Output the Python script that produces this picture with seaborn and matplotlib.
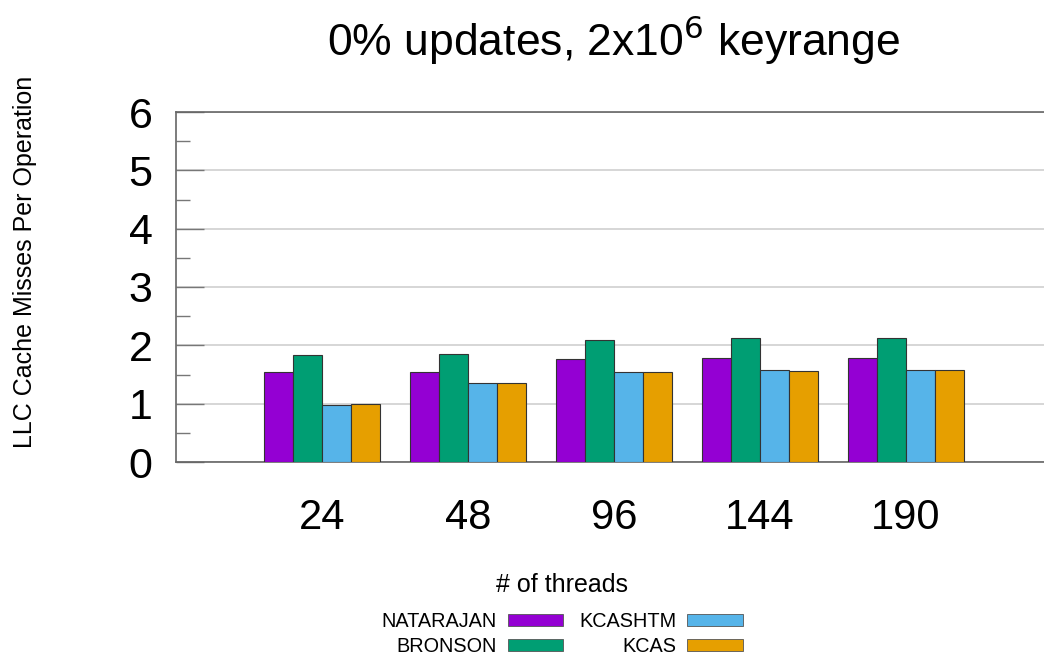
import pandas as pd
import matplotlib
matplotlib.use("Agg")
import matplotlib.pyplot as plt
import seaborn as sns
from matplotlib.ticker import MultipleLocator

threads = ["24", "48", "96", "144", "190"]
algos = ["NATARAJAN", "BRONSON", "KCASHTM", "KCAS"]
natarajan = [1.55, 1.55, 1.76, 1.78, 1.78]
bronson = [1.83, 1.86, 2.10, 2.12, 2.12]
kcashtm = [0.97, 1.35, 1.55, 1.57, 1.57]
kcas = [0.99, 1.35, 1.55, 1.555, 1.57]
colors = ["#9400D3", "#009E73", "#56B4E9", "#E69F00"]

rows = []
for name, vals in zip(algos, [natarajan, bronson, kcashtm, kcas]):
    for t, v in zip(threads, vals):
        rows.append({"threads": t, "algo": name, "misses": v})
df = pd.DataFrame(rows)

sns.set_style("white")
plt.rcParams['font.family'] = ['Liberation Sans', 'DejaVu Sans']
plt.rcParams['text.color'] = 'black'
plt.rcParams['xtick.color'] = 'black'
plt.rcParams['ytick.color'] = 'black'

fig = plt.figure(figsize=(10.44, 6.59), dpi=100)
ax = fig.add_axes([176 / 1044, 1 - 462 / 659, 1 - 176 / 1044, 350 / 659])

sns.barplot(data=df, x="threads", y="misses", hue="algo", order=threads,
            hue_order=algos, palette=colors, width=0.8, edgecolor="#333333",
            linewidth=0.8, saturation=1, ax=ax, zorder=3)

ax.set_xlim(-1, 4.945)
ax.set_ylim(0, 6)
ax.yaxis.set_major_locator(MultipleLocator(1))
ax.yaxis.set_minor_locator(MultipleLocator(0.5))
ax.grid(axis="y", which="major", color="#d0d0d0", linewidth=1.2, zorder=0)
ax.set_axisbelow(True)
ax.tick_params(axis="y", which="major", left=True, direction="in", length=20,
               width=1, color="#777777", labelcolor="black", labelsize=31, pad=17)
ax.tick_params(axis="y", which="minor", left=True, direction="in", length=10,
               width=1, color="#777777")
ax.tick_params(axis="x", length=0, labelsize=30, labelcolor="black", pad=26)
for side in ["left", "bottom", "top"]:
    ax.spines[side].set_color("#666666")
    ax.spines[side].set_linewidth(1.2)
ax.spines["right"].set_visible(False)

ax.set_xlabel("")
ax.set_ylabel("")
fig.text(562 / 1044, 1 - 585 / 659, "# of threads", fontsize=18,
         ha="center", va="center")
fig.text(25 / 1044, 1 - 262 / 659, "LLC Cache Misses Per Operation",
         rotation=90, fontsize=18, ha="center", va="center")
fig.text(614 / 1044, 1 - 40 / 659, r"0% updates, 2x10$^6$ keyrange",
         fontsize=32, ha="center", va="center")

ax.get_legend().remove()
handles = [plt.Rectangle((0, 0), 1, 1, facecolor=c, edgecolor="#555555",
                         linewidth=0.6) for c in colors]
fig.legend(handles, algos, loc="center", bbox_to_anchor=(562 / 1044, 1 - 634 / 659),
           ncol=2, frameon=False, markerfirst=False, fontsize=14.3,
           handlelength=2.8, handleheight=0.5, handletextpad=0.55,
           columnspacing=0.8, labelspacing=0.3)

fig.savefig("out.png", dpi=100)
